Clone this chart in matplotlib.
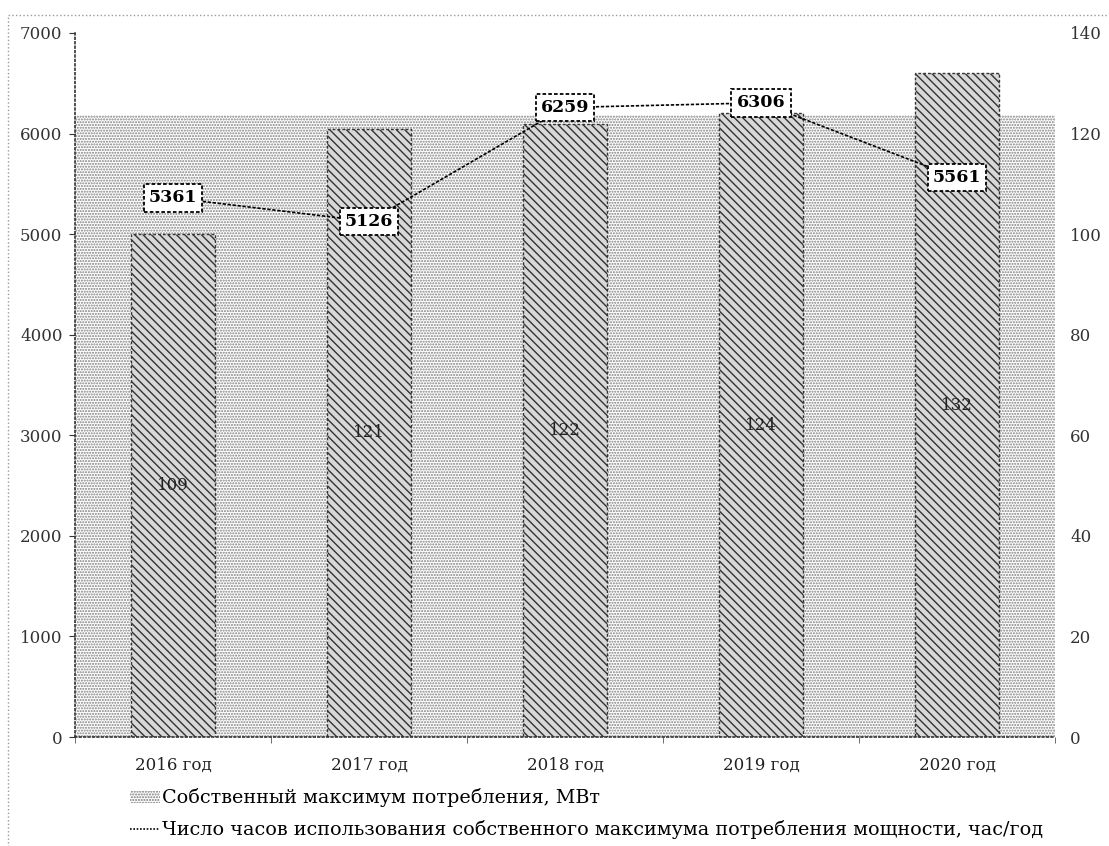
"""
Собственный максимум потребления и число часов его использования, 2016-2020
"""
import matplotlib
matplotlib.use('Agg')
import matplotlib.pyplot as plt
import matplotlib.patches as mpatches
import matplotlib.lines as mlines
from matplotlib.ticker import FixedLocator

plt.rcParams['font.family'] = ['DejaVu Serif']
plt.rcParams['hatch.linewidth'] = 1.0

years = ['2016 год', '2017 год', '2018 год', '2019 год', '2020 год']
# bar heights as drawn in the source, labels as printed on the bars
peak_heights = [100, 121, 122, 124, 132]
peak_labels = [109, 121, 122, 124, 132]
hours = [5361, 5126, 6259, 6306, 5561]
shade_level = 123.7   # top of the dotted backdrop, right-axis units

fig = plt.figure(figsize=(11.09, 8.46), dpi=100)
ax = fig.add_axes([0.0676, 0.1288, 0.8837, 0.8322])
ax2 = ax.twinx()

# bars + backdrop on the right axis, line above them on the left axis
ax.set_zorder(ax2.get_zorder() + 1)
ax.patch.set_visible(False)

x = list(range(len(years)))

ax2.fill_between([-0.5, 4.5], 0, shade_level, facecolor='white',
                 edgecolor='#808080', hatch='......', linewidth=0, zorder=0)
bars = ax2.bar(x, peak_heights, width=0.43, facecolor='#d8d8d8',
               edgecolor='#333333', hatch='\\\\\\\\', linewidth=1.0,
               linestyle=(0, (2, 1.5)), zorder=2)
for rect, lab in zip(bars, peak_labels):
    ax2.text(rect.get_x() + rect.get_width() / 2, rect.get_height() / 2, str(lab),
             ha='center', va='center', fontsize=12, color='#222222', zorder=3)

ax2.set_ylim(0, 140)
ax2.set_yticks(range(0, 141, 20))
ax2.tick_params(axis='y', length=0, pad=11, labelsize=12, colors='#333333')
for s in ax2.spines.values():
    s.set_visible(False)

ax.plot(x, hours, color='black', linewidth=1.2, linestyle=(0, (2, 1)), zorder=4)
for xi, v in zip(x, hours):
    ax.text(xi, v, str(v), ha='center', va='center', fontsize=12.5,
            fontweight='bold', zorder=5,
            bbox=dict(boxstyle='square,pad=0.3', facecolor='white',
                      edgecolor='black', linestyle=(0, (2, 1.2)), linewidth=1.3))

ax.set_ylim(0, 7000)
ax.set_yticks(range(0, 7001, 1000))
ax.set_xlim(-0.5, 4.5)
ax.set_xticks(x)
ax.set_xticklabels(years)
ax.xaxis.set_minor_locator(FixedLocator([i + 0.5 for i in range(-1, 5)]))
ax.tick_params(axis='x', which='major', length=0, pad=14, labelsize=12, colors='#222222')
ax.tick_params(axis='x', which='minor', length=4, direction='out', color='#555555')
ax.tick_params(axis='y', length=4, pad=5, labelsize=12, colors='#333333')
for side in ['top', 'right']:
    ax.spines[side].set_visible(False)
for side in ['left', 'bottom']:
    ax.spines[side].set_linestyle(':')
    ax.spines[side].set_color('#333333')
    ax.spines[side].set_linewidth(1.2)

h_bar = mpatches.Patch(facecolor='white', edgecolor='#777777', hatch='......', linewidth=0)
h_line = mlines.Line2D([], [], color='black', linewidth=1.2, linestyle=(0, (1, 1)))
fig.legend([h_bar, h_line],
           ['Собственный максимум потребления, МВт',
            'Число часов использования собственного максимума потребления мощности, час/год'],
           loc='upper left', bbox_to_anchor=(0.117, 0.068), frameon=False,
           fontsize=13.8, handlelength=1.6, handleheight=0.6, handletextpad=0.1,
           labelspacing=0.65, borderpad=0, borderaxespad=0)

# dotted outer frame of the chart area
fig.patches.append(mpatches.Rectangle((0.0072, -0.1), 1.2, 1.082, transform=fig.transFigure,
                                      fill=False, edgecolor='#9a9a9a', linestyle=':',
                                      linewidth=1.0))

fig.savefig('out.png', dpi=100)
plt.close(fig)
